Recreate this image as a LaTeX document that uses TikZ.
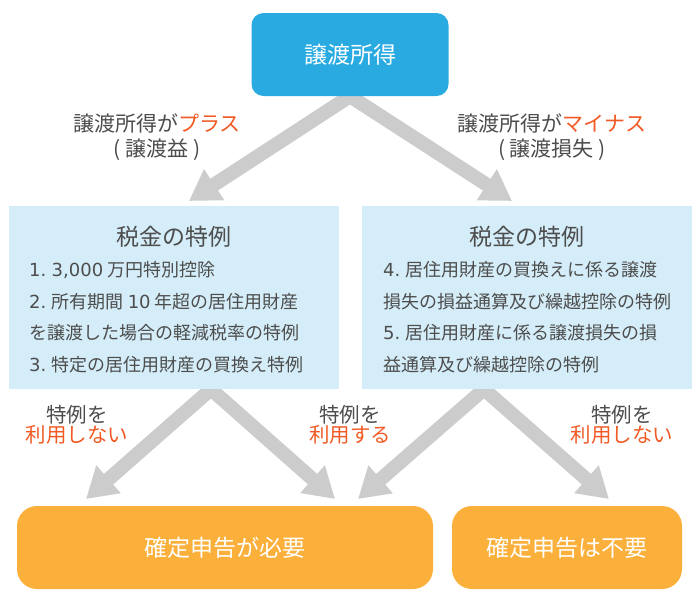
\documentclass[tikz,border=0pt]{standalone}
\usepackage{fontspec}
\setmainfont{Noto Sans CJK JP}
\newfontfamily\numfont{DejaVu Sans}
\usetikzlibrary{arrows.meta,backgrounds}
\definecolor{topblue}{HTML}{29ABE2}
\definecolor{paleblue}{HTML}{D4EDF8}
\definecolor{boxorange}{HTML}{FBB03B}
\definecolor{arrowgray}{HTML}{CCCCCC}
\definecolor{txtgray}{HTML}{4D4D4D}
\definecolor{accent}{HTML}{F15A24}
\newcommand{\nm}[1]{{\numfont #1}}
\begin{document}
\begin{tikzpicture}[x=1pt,y=-1pt,
  topbox/.style={fill=topblue,rounded corners=12pt,minimum width=197pt,minimum height=83pt,text=white,font=\fontsize{23}{26}\selectfont,inner sep=0pt},
  rulebox/.style={fill=paleblue,minimum width=330pt,minimum height=183pt,inner sep=0pt},
  resbox/.style={fill=boxorange,rounded corners=20pt,minimum height=83pt,text=white,font=\fontsize{23}{26}\selectfont,inner sep=0pt},
  title/.style={text=txtgray,font=\fontsize{23}{26}\selectfont,inner sep=0pt},
  item/.style={text=txtgray,font=\fontsize{18}{20}\selectfont,anchor=west,inner sep=0pt},
  lbl/.style={text=txtgray,font=\fontsize{21}{25}\selectfont,align=center,inner sep=0pt},
  bigarrow/.style={draw=arrowgray,line width=14pt,-{Triangle[length=30pt,width=35pt]}}
]
\useasboundingbox (0,0) rectangle (700,600);

\node[topbox] (top) at (350,54.5) {譲渡所得};
\node[rulebox] (lbox) at (174,297.5) {};
\node[rulebox] (rbox) at (527,297.5) {};
\node[resbox,minimum width=416pt] (lout) at (225,547.5) {確定申告が必要};
\node[resbox,minimum width=230pt] (rout) at (567,547.5) {確定申告は不要};

\coordinate (t1) at (189,201);
\coordinate (t2) at (512,201);
\coordinate (b1) at (86,499);
\coordinate (b2) at (335,499);
\coordinate (b3) at (358,499);
\coordinate (b4) at (609,499);

\begin{scope}[on background layer]
\fill[white] (0,0) rectangle (700,600);
\draw[bigarrow] (top.south) -- (t1);
\draw[bigarrow] (top.south) -- (t2);
\draw[bigarrow] ([xshift=37pt]lbox.south) -- (b1);
\draw[bigarrow] ([xshift=37pt]lbox.south) -- (b2);
\draw[bigarrow] ([xshift=-43pt]rbox.south) -- (b3);
\draw[bigarrow] ([xshift=-43pt]rbox.south) -- (b4);
\end{scope}

\node[title] (lt) at (174,237) {税金の特例};
\node[item] (l1) at (29,270) {\nm{1.} \nm{3,000} 万円特別控除};
\node[item] (l2) at (29,302) {\nm{2.} 所有期間 \nm{10} 年超の居住用財産};
\node[item] (l3) at (29,333) {を譲渡した場合の軽減税率の特例};
\node[item] (l4) at (29,365) {\nm{3.} 特定の居住用財産の買換え特例};

\node[title] (rt) at (527,237) {税金の特例};
\node[item] (r1) at (383,270) {\nm{4.} 居住用財産の買換えに係る譲渡};
\node[item] (r2) at (383,302) {損失の損益通算及び繰越控除の特例};
\node[item] (r3) at (383,333) {\nm{5.} 居住用財産に係る譲渡損失の損};
\node[item] (r4) at (383,365) {益通算及び繰越控除の特例};

\node[lbl] (la) at (157,137.5) {譲渡所得が\textcolor{accent}{プラス}\\( 譲渡益 )};
\node[lbl] (lb) at (552,137.5) {譲渡所得が\textcolor{accent}{マイナス}\\( 譲渡損失 )};

\node[lbl,font=\fontsize{20.5}{20}\selectfont] (lc) at (77,425) {特例を\\\textcolor{accent}{利用しない}};
\node[lbl,font=\fontsize{20.5}{20}\selectfont] (ld) at (350,425) {特例を\\\textcolor{accent}{利用する}};
\node[lbl,font=\fontsize{20.5}{20}\selectfont] (le) at (622,425) {特例を\\\textcolor{accent}{利用しない}};
\end{tikzpicture}
\end{document}
